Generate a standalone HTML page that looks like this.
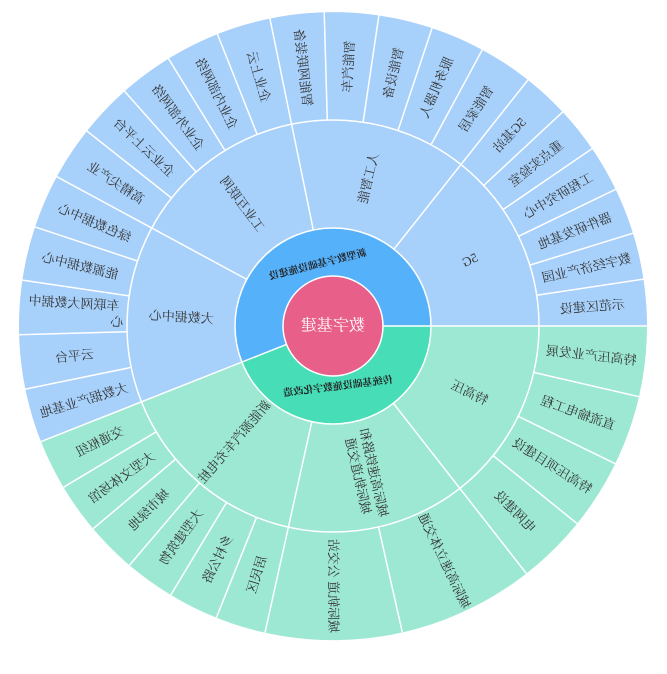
<!DOCTYPE html>
<html><head><meta charset="utf-8"><style>
html,body{margin:0;padding:0;background:#fff;}
svg{display:block;}
text{font-family:"Liberation Serif","Noto Serif CJK SC",serif;fill:#333;text-anchor:middle;dominant-baseline:central;font-size:13px;}
.mid{font-size:13px;}
.in{font-size:10px;font-weight:bold;fill:#222;}
.c{font-size:16px;fill:#fff;}
</style></head><body>
<svg width="667" height="674" viewBox="0 0 667 674" xmlns="http://www.w3.org/2000/svg">
<rect width="667" height="674" fill="#fff"/>
<path d="M333,326 L647,326 A314,314 0 1 0 41.0,441.6 Z" fill="#a7d0fa"/>
<path d="M333,326 L41.0,441.6 A314,314 0 0 0 647,326 Z" fill="#9de8d2"/>
<path d="M333,326 L431,326 A98,98 0 1 0 241.9,362.1 Z" fill="#56b1fb"/>
<path d="M333,326 L241.9,362.1 A98,98 0 0 0 431,326 Z" fill="#46ddb7"/>
<g fill="none" stroke="#fff" stroke-width="1.5">
<circle cx="333" cy="326" r="206"/>
<circle cx="333" cy="326" r="98"/>
<line x1="383" y1="326" x2="647" y2="326"/>
<line x1="286.5" y1="344.4" x2="41.0" y2="441.6"/>
<line x1="393.9" y1="249.2" x2="528.0" y2="79.9"/>
<line x1="313.3" y1="230.0" x2="269.9" y2="18.4"/>
<line x1="246.8" y1="279.4" x2="56.8" y2="176.7"/>
<line x1="311.8" y1="421.7" x2="265.0" y2="632.6"/>
<line x1="393.3" y1="403.2" x2="526.3" y2="573.4"/>
<line x1="536.7" y1="295.2" x2="643.5" y2="279.1"/>
<line x1="529.8" y1="265.1" x2="633.0" y2="233.2"/>
<line x1="518.5" y1="236.3" x2="615.7" y2="189.3"/>
<line x1="503.0" y1="209.6" x2="592.1" y2="148.6"/>
<line x1="483.7" y1="185.5" x2="562.7" y2="111.9"/>
<line x1="431.0" y1="144.8" x2="482.3" y2="49.8"/>
<line x1="398.0" y1="130.5" x2="432.1" y2="28.0"/>
<line x1="363.1" y1="122.2" x2="378.9" y2="15.4"/>
<line x1="327.3" y1="120.1" x2="324.2" y2="12.1"/>
<line x1="257.2" y1="134.5" x2="217.4" y2="34.0"/>
<line x1="225.1" y1="150.6" x2="168.5" y2="58.6"/>
<line x1="196.2" y1="172.0" x2="124.5" y2="91.2"/>
<line x1="171.6" y1="198.1" x2="86.9" y2="131.0"/>
<line x1="137.5" y1="261.0" x2="35.0" y2="226.9"/>
<line x1="129.2" y1="295.9" x2="22.4" y2="280.1"/>
<line x1="127.1" y1="331.7" x2="19.1" y2="334.8"/>
<line x1="131.2" y1="367.4" x2="25.4" y2="389.1"/>
<line x1="156.2" y1="431.8" x2="63.6" y2="487.2"/>
<line x1="175.7" y1="459.0" x2="93.2" y2="528.7"/>
<line x1="199.5" y1="482.9" x2="129.5" y2="565.1"/>
<line x1="226.6" y1="502.4" x2="170.8" y2="594.9"/>
<line x1="256.5" y1="517.3" x2="216.4" y2="617.5"/>
<line x1="378.5" y1="526.9" x2="402.3" y2="632.2"/>
<line x1="493.1" y1="455.6" x2="577.0" y2="523.6"/>
<line x1="518.2" y1="416.3" x2="615.2" y2="463.7"/>
<line x1="533.7" y1="372.4" x2="639.0" y2="396.7"/>
</g>
<circle cx="333" cy="326" r="50" fill="#e8608a" stroke="#fff" stroke-width="1.5"/>
<text class="c" transform="translate(333,326) scale(-1,1)">数字基建</text>
<text class="in" transform="translate(318,265) rotate(-14) scale(-1,1)">新型数字基础设施建设</text>
<text class="in" transform="translate(338,387) rotate(-7) scale(-1,1)">传统基础设施数字化改造</text>
<text class="mid" transform="translate(469.8,259.8) rotate(-25.8) scale(-1,1)">5G</text>
<text class="mid" transform="translate(368.2,178.1) rotate(-76.6) scale(-1,1)">人工智能</text>
<text class="mid" transform="translate(242.4,204.0) rotate(53.4) scale(-1,1)">工业互联网</text>
<text class="mid" transform="translate(181.3,317.0) rotate(3.4) scale(-1,1)">大数据中心</text>
<text class="mid" transform="translate(234.3,441.6) rotate(-49.5) scale(-1,1)">新能源汽车充电桩</text>
<text class="mid" transform="translate(366.5,474.2) rotate(77.25) scale(-1,1)"><tspan x="0" dy="-8">城际高速铁路和</tspan><tspan x="0" dy="16">城际轨道交通</tspan></text>
<text class="mid" transform="translate(469.6,392.6) rotate(26) scale(-1,1)">特高压</text>
<text transform="translate(592.3,306.5) rotate(-4.3) scale(-1,1)">示范区建设</text>
<text transform="translate(586.4,267.9) rotate(-12.9) scale(-1,1)">数字经济产业园</text>
<text transform="translate(574.9,230.7) rotate(-21.5) scale(-1,1)">器件研发基地</text>
<text transform="translate(558.0,195.6) rotate(-30.1) scale(-1,1)">工程研究中心</text>
<text transform="translate(535.9,163.4) rotate(-38.7) scale(-1,1)">重点实验室</text>
<text transform="translate(509.3,134.9) rotate(-47.3) scale(-1,1)">5G基站</text>
<text transform="translate(476.1,108.9) rotate(-56.6) scale(-1,1)">智能家居</text>
<text transform="translate(436.2,87.4) rotate(-66.6) scale(-1,1)">服务机器人</text>
<text transform="translate(393.2,73.0) rotate(-76.6) scale(-1,1)">智能设备</text>
<text transform="translate(348.4,66.5) rotate(-86.6) scale(-1,1)">智能汽车</text>
<text transform="translate(303.1,67.7) rotate(83.4) scale(-1,1)">智能网联装备</text>
<text transform="translate(258.7,76.8) rotate(73.4) scale(-1,1)">企业上云</text>
<text transform="translate(216.6,93.5) rotate(63.4) scale(-1,1)">企业内部网络</text>
<text transform="translate(178.0,117.3) rotate(53.4) scale(-1,1)">企业外部网络</text>
<text transform="translate(144.1,147.4) rotate(43.4) scale(-1,1)">企业云上平台</text>
<text transform="translate(116.0,182.9) rotate(33.4) scale(-1,1)">高精尖产业</text>
<text transform="translate(94.4,222.8) rotate(23.4) scale(-1,1)">绿色数据中心</text>
<text transform="translate(80.1,265.8) rotate(13.4) scale(-1,1)">能源数据中心</text>
<text transform="translate(73.5,310.6) rotate(3.4) scale(-1,1)"><tspan x="0" dy="-8">车联网大数据中</tspan><tspan x="-44" dy="16">心</tspan></text>
<text transform="translate(74.7,355.9) rotate(-6.6) scale(-1,1)">云平台</text>
<text transform="translate(83.8,400.3) rotate(-16.6) scale(-1,1)">大数据产业基地</text>
<text transform="translate(99.9,441.2) rotate(-26.3) scale(-1,1)">交通枢纽</text>
<text transform="translate(121.6,477.3) rotate(-35.6) scale(-1,1)">大型文体场馆</text>
<text transform="translate(148.8,509.5) rotate(-44.9) scale(-1,1)">城市绿地</text>
<text transform="translate(180.9,536.9) rotate(-54.2) scale(-1,1)">大型建筑物</text>
<text transform="translate(217.4,558.9) rotate(-63.6) scale(-1,1)">乡村公路</text>
<text transform="translate(256.6,574.5) rotate(-72.9) scale(-1,1)">居民区</text>
<text transform="translate(333.4,586) rotate(89.9) scale(-1,1)">城际轨道 公交站</text>
<text transform="translate(444.5,560.9) rotate(64.6) scale(-1,1)">城际高速立体交通</text>
<text transform="translate(515.2,511.5) rotate(45.5) scale(-1,1)">电网建设</text>
<text transform="translate(552.3,465.7) rotate(32.5) scale(-1,1)">特高压项目建设</text>
<text transform="translate(578.1,412.8) rotate(19.5) scale(-1,1)">直流输电工程</text>
<text transform="translate(591.3,355.4) rotate(6.5) scale(-1,1)">特高压产业发展</text>
</svg>
</body></html>
